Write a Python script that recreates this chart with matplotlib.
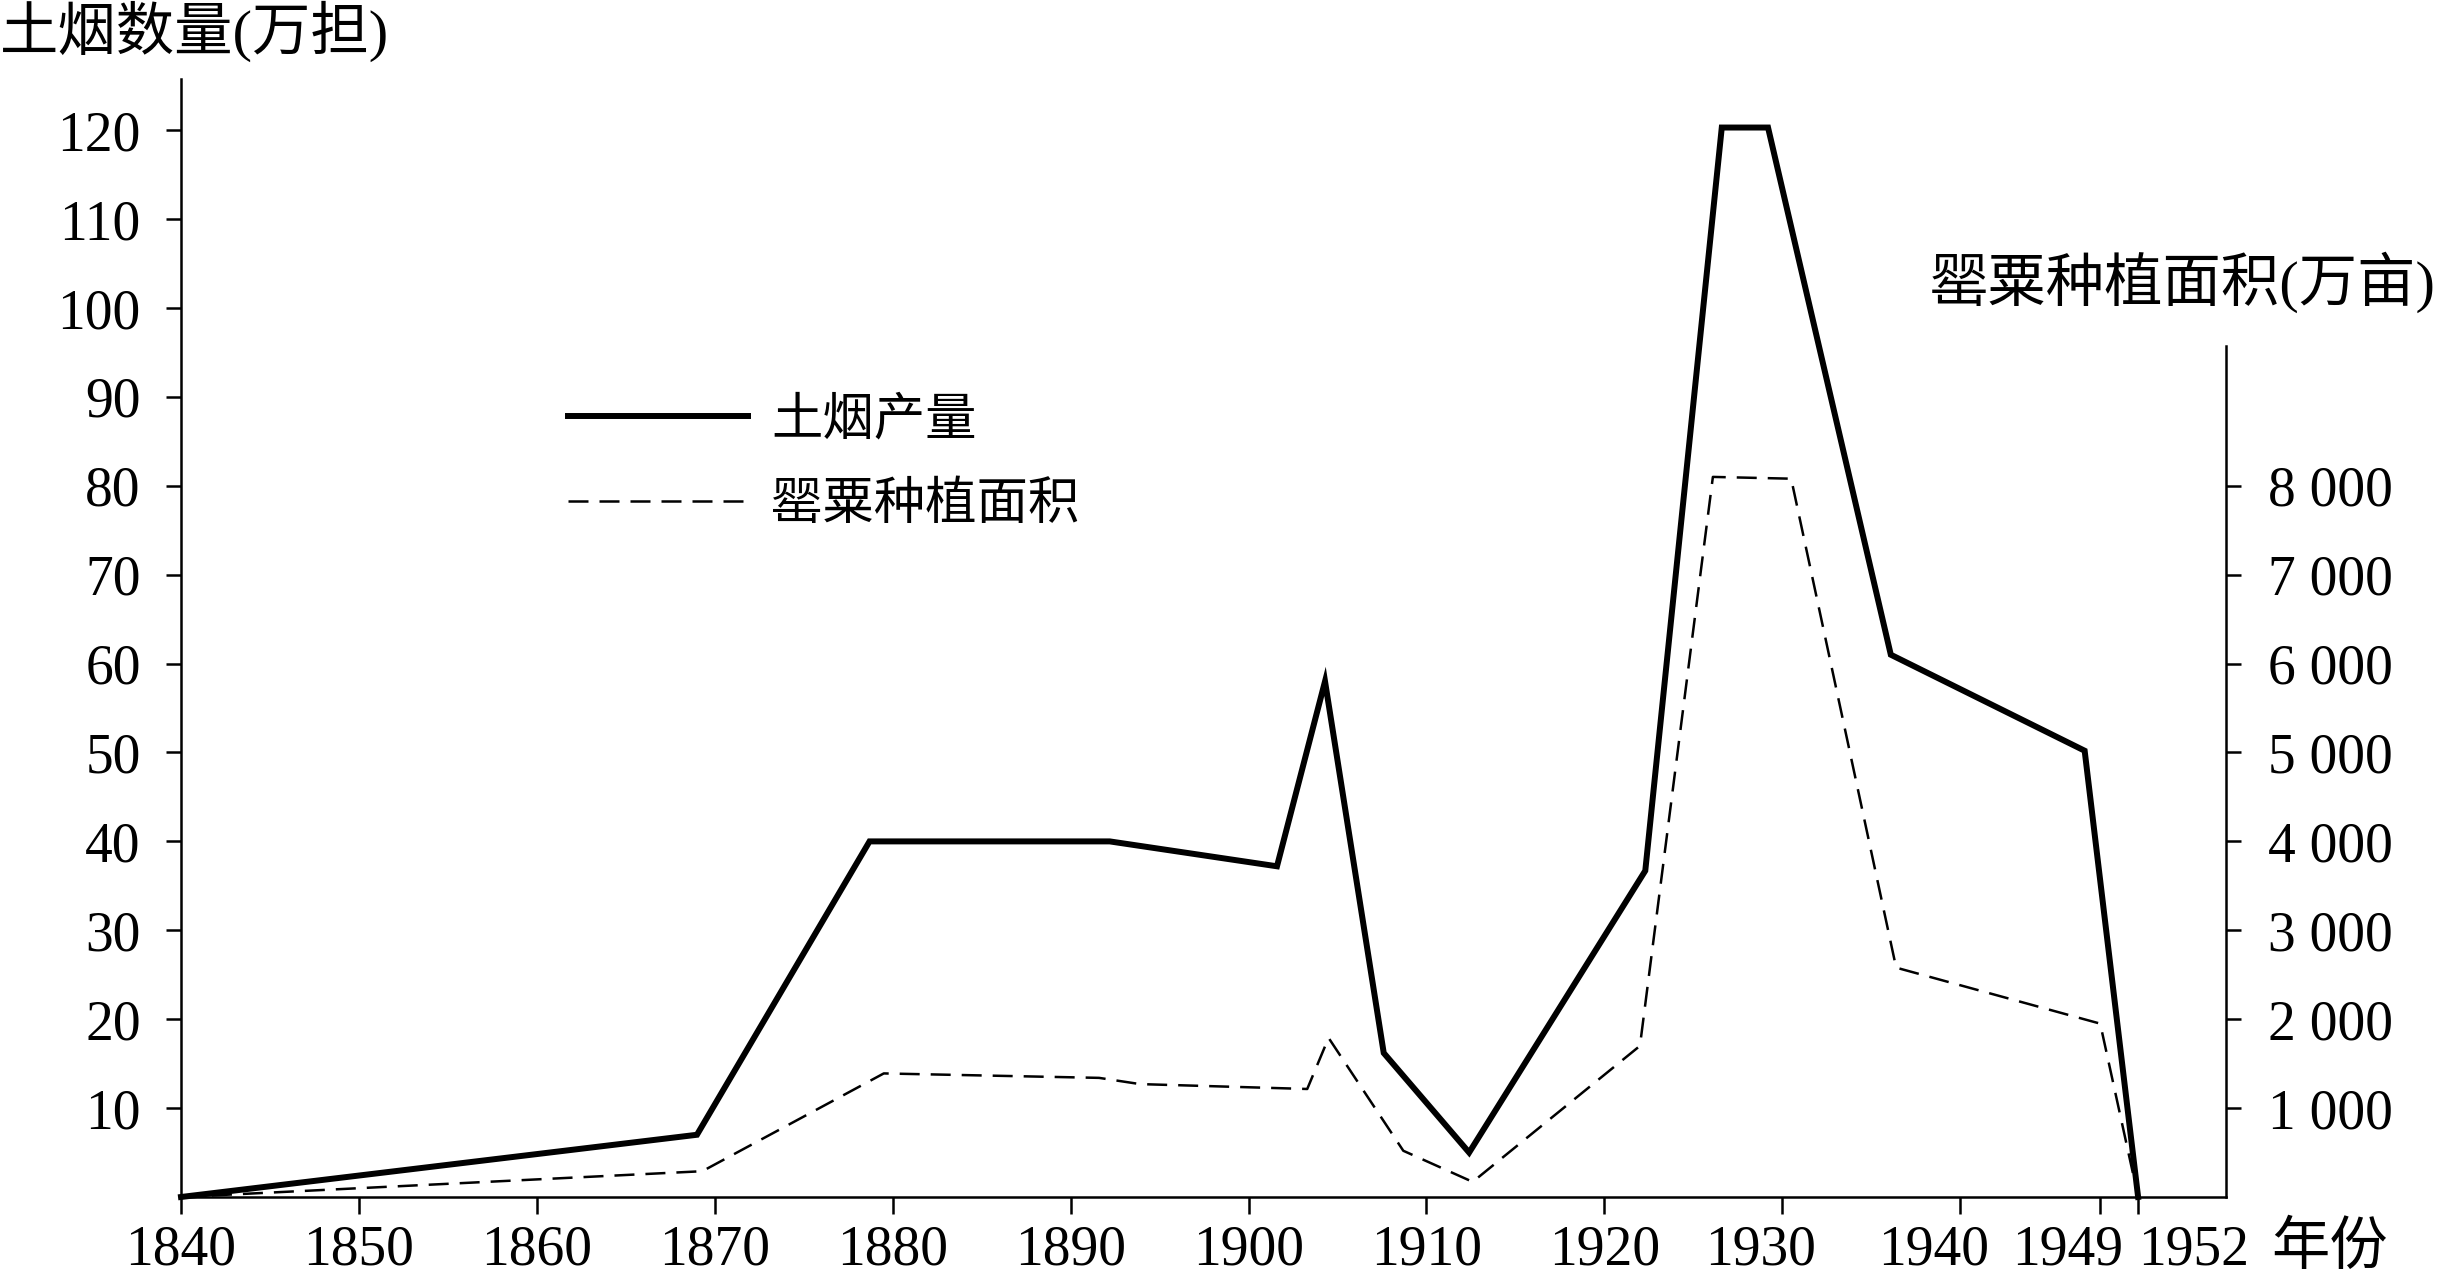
import numpy as np
import matplotlib
matplotlib.use("Agg")
import matplotlib.pyplot as plt
from matplotlib.transforms import ScaledTranslation

plt.rcParams['font.family'] = ['Liberation Serif', 'Noto Sans CJK SC']

# 土烟产量 (万担)
tobacco_years = [1840, 1869, 1878.7, 1892.2, 1901.6, 1904.3, 1907.6, 1912.4,
                 1922.3, 1926.6, 1929.2, 1936.1, 1948.0, 1952]
tobacco = [0, 7, 40, 40, 37.2, 58, 16.2, 5.0, 36.7, 120.3, 120.3, 61, 50.2, 0]

# 罂粟种植面积 (万亩)
poppy_years = [1840, 1869.3, 1879.5, 1891.6, 1893.9, 1903.3, 1904.5, 1908.7,
               1912.6, 1922.0, 1926.1, 1930.5, 1936.4, 1949, 1952]
poppy = [0, 290, 1390, 1340, 1270, 1215, 1790, 520, 170, 1700, 8100, 8080,
         2580, 1950, 0]

xtick_years = [1840, 1850, 1860, 1870, 1880, 1890, 1900, 1910, 1920, 1930,
               1940, 1949, 1952]
left_ticks = [10, 20, 30, 40, 50, 60, 70, 80, 90, 100, 110, 120]
right_ticks = [1000, 2000, 3000, 4000, 5000, 6000, 7000, 8000]
right_labels = ['1 000', '2 000', '3 000', '4 000', '5 000', '6 000', '7 000', '8 000']

# the printed axis squeezes the last decade a little
axis_years = [1800, 1940, 1949, 1952, 2000]
axis_pos = [1800, 1940, 1947.87, 1950.0, 1998.0]


def fwd(x):
    return np.interp(x, axis_years, axis_pos)


def inv(p):
    return np.interp(p, axis_pos, axis_years)


fig = plt.figure(figsize=(24.42, 12.77), dpi=100)
ax = fig.add_axes([0.07412, 0.06265, 0.83743, 0.87549])
ax.set_xscale('function', functions=(fwd, inv))
ax.set_xlim(1840, 1956.94)
ax.set_ylim(0, 125.76)
ax2 = ax.twinx()
ax2.set_ylim(0, 12576)

l1, = ax.plot(tobacco_years, tobacco, color='black', lw=4.3,
              solid_joinstyle='miter', clip_on=False)
l2, = ax2.plot(poppy_years, poppy, color='black', lw=1.8, dashes=(8, 4.4),
               clip_on=False)

for s in ['top', 'right']:
    ax.spines[s].set_visible(False)
for s in ['top', 'left', 'bottom']:
    ax2.spines[s].set_visible(False)
for s in ['left', 'bottom']:
    ax.spines[s].set_linewidth(1.8)
ax2.spines['right'].set_linewidth(1.8)
ax2.spines['right'].set_bounds(0, 9570)

ax.set_xticks(xtick_years)
ax.set_xticklabels([str(y) for y in xtick_years])
ax.set_yticks(left_ticks)
ax.set_yticklabels([str(v) for v in left_ticks])
ax2.set_yticks(right_ticks)
ax2.set_yticklabels(right_labels)

ax.tick_params(axis='x', direction='out', length=12, width=1.8, pad=8, labelsize=40)
ax.tick_params(axis='y', direction='out', length=11, width=1.8, pad=18, labelsize=40)
ax2.tick_params(axis='y', direction='out', length=11, width=1.8, pad=19, labelsize=40)

# crowded labels at the right end are nudged sideways, as in the print
shift_px = {1930: -22, 1940: -27, 1949: -33, 1952: 56}
for lab, yr in zip(ax.get_xticklabels(), xtick_years):
    if yr in shift_px:
        lab.set_transform(lab.get_transform() +
                          ScaledTranslation(shift_px[yr] / 100, 0, fig.dpi_scale_trans))

ax2.legend([l1, l2], ['土烟产量', '罂粟种植面积'], loc='upper left',
           bbox_to_anchor=(0.1892, 0.715), frameon=False, prop={'size': 37},
           handlelength=3.5, handletextpad=0.45, borderpad=0, borderaxespad=0,
           labelspacing=0.72)

fig.text(0, 1 - 31 / 1277, '土烟数量(万担)', fontsize=42, va='center', ha='left')
fig.text(1930 / 2442, 1 - 282 / 1277, '罂粟种植面积(万亩)', fontsize=42,
         va='center', ha='left')
fig.text(2330 / 2442, 1 - 1249 / 1277, '年份', fontsize=42, va='center', ha='center')

fig.savefig('out.png', dpi=100)
